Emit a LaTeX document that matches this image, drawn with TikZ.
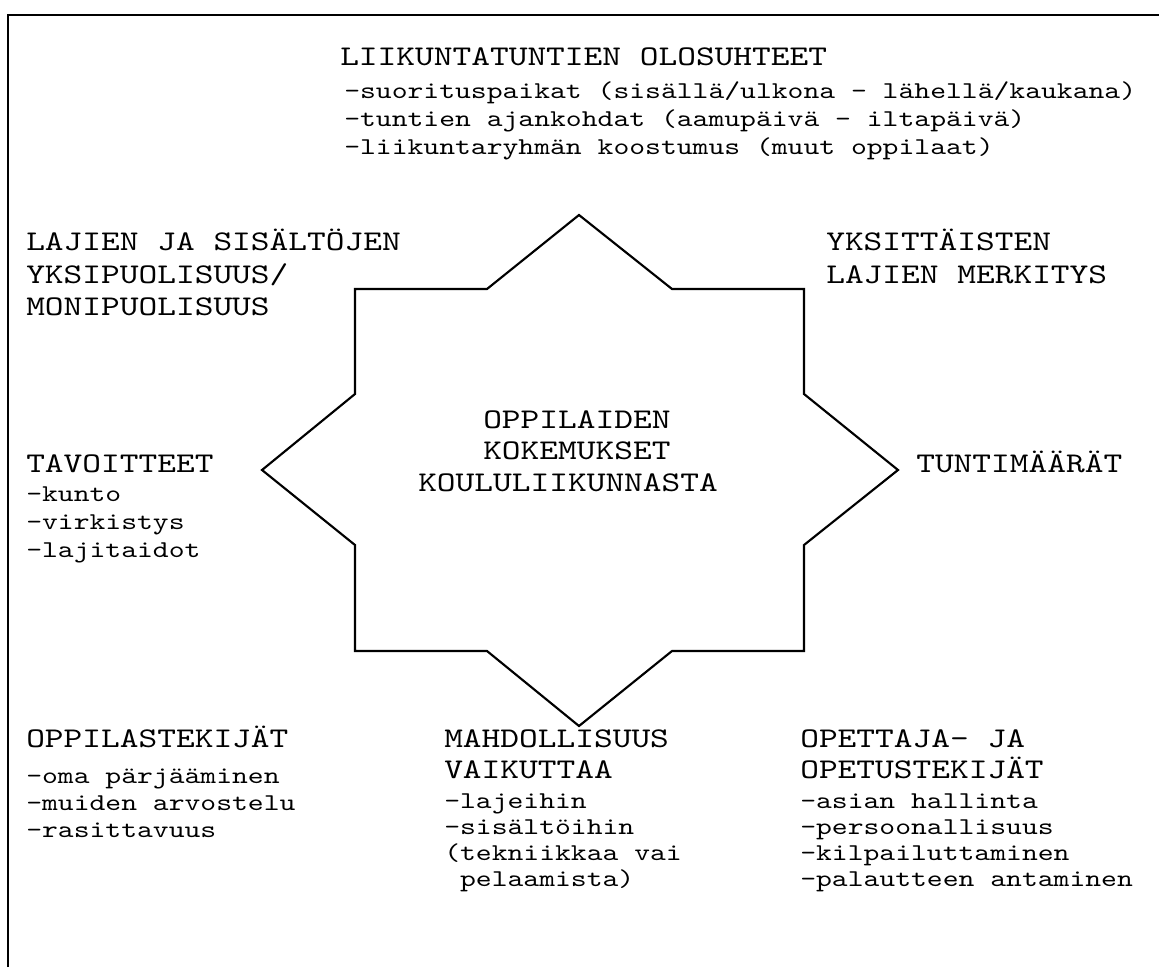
\documentclass[tikz,border=0pt]{standalone}
\usepackage{fontspec}
\usepackage{tikz}
\usetikzlibrary{positioning}
\newfontfamily\courfont[FakeStretch=1.25]{lmmono10-regular.otf}

\begin{document}
\begin{tikzpicture}[
    x=0.75pt, y=-0.75pt,
    head/.style={font=\courfont\fontsize{21.4}{22}\selectfont, anchor=base west, inner sep=0pt},
    item/.style={font=\courfont\fontsize{18.1}{19}\selectfont, anchor=base west, inner sep=0pt},
    frame/.style={line width=2pt},
    starline/.style={line width=1.6pt, line join=miter}
  ]
  \path[use as bounding box] (0,0) rectangle (1159,967);

  % Frame (left and top edge only)
  \draw[frame] (8,967) -- (8,15) -- (1159,15);

  % Star
  \draw[starline] (579,215) -- (672,289) -- (804,289) -- (804,394) -- (898,470)
    -- (804,545) -- (804,651) -- (672,651) -- (579,726) -- (487,651) -- (355,651)
    -- (355,545) -- (262,470) -- (355,394) -- (355,289) -- (487,289) -- cycle;

  % Centre
  \node[head] (kok1) at (483,428) {OPPILAIDEN};
  \node[head] (kok2) at (483,459) {KOKEMUKSET};
  \node[head] (kok3) at (418,491) {KOULULIIKUNNASTA};

  % Top
  \node[head] (olo) at (340,65) {LIIKUNTATUNTIEN OLOSUHTEET};
  \foreach \t [count=\i] in {{-suorituspaikat (sisällä/ulkona - lähellä/kaukana)},
      {-tuntien ajankohdat (aamupäivä - iltapäivä)},
      {-liikuntaryhmän koostumus (muut oppilaat)}}
    \node[item] (olo\i) at (344,70+28*\i) {\t};

  % Upper left and upper right
  \node[head] (laj1) at (26,250) {LAJIEN JA SISÄLTÖJEN};
  \node[head] (laj2) at (26,283) {YKSIPUOLISUUS/};
  \node[head] (laj3) at (26,315) {MONIPUOLISUUS};
  \node[head] (yks1) at (826,250) {YKSITTÄISTEN};
  \node[head] (yks2) at (826,283) {LAJIEN MERKITYS};

  % Left and right
  \node[head] (tav) at (26,472) {TAVOITTEET};
  \foreach \t [count=\i] in {-kunto, -virkistys, -lajitaidot}
    \node[item] (tav\i) at (26,473+28*\i) {\t};
  \node[head] (tun) at (916,472) {TUNTIMÄÄRÄT};

  % Bottom row
  \node[head] (opp) at (26,747) {OPPILASTEKIJÄT};
  \foreach \t [count=\i] in {-oma pärjääminen, -muiden arvostelu, -rasittavuus}
    \node[item] (opp\i) at (26,756+27*\i) {\t};

  \node[head] (mah1) at (444,747) {MAHDOLLISUUS};
  \node[head] (mah2) at (444,778) {VAIKUTTAA};
  \foreach \t [count=\i] in {{-lajeihin}, {-sisältöihin}, {(tekniikkaa vai}, {\ pelaamista)}}
    \node[item] (mah\i) at (444,782+26*\i) {\t};

  \node[head] (ope1) at (800,747) {OPETTAJA- JA};
  \node[head] (ope2) at (800,778) {OPETUSTEKIJÄT};
  \foreach \t [count=\i] in {-asian hallinta, -persoonallisuus, -kilpailuttaminen,
      -palautteen antaminen}
    \node[item] (ope\i) at (800,782+26*\i) {\t};
\end{tikzpicture}
\end{document}
